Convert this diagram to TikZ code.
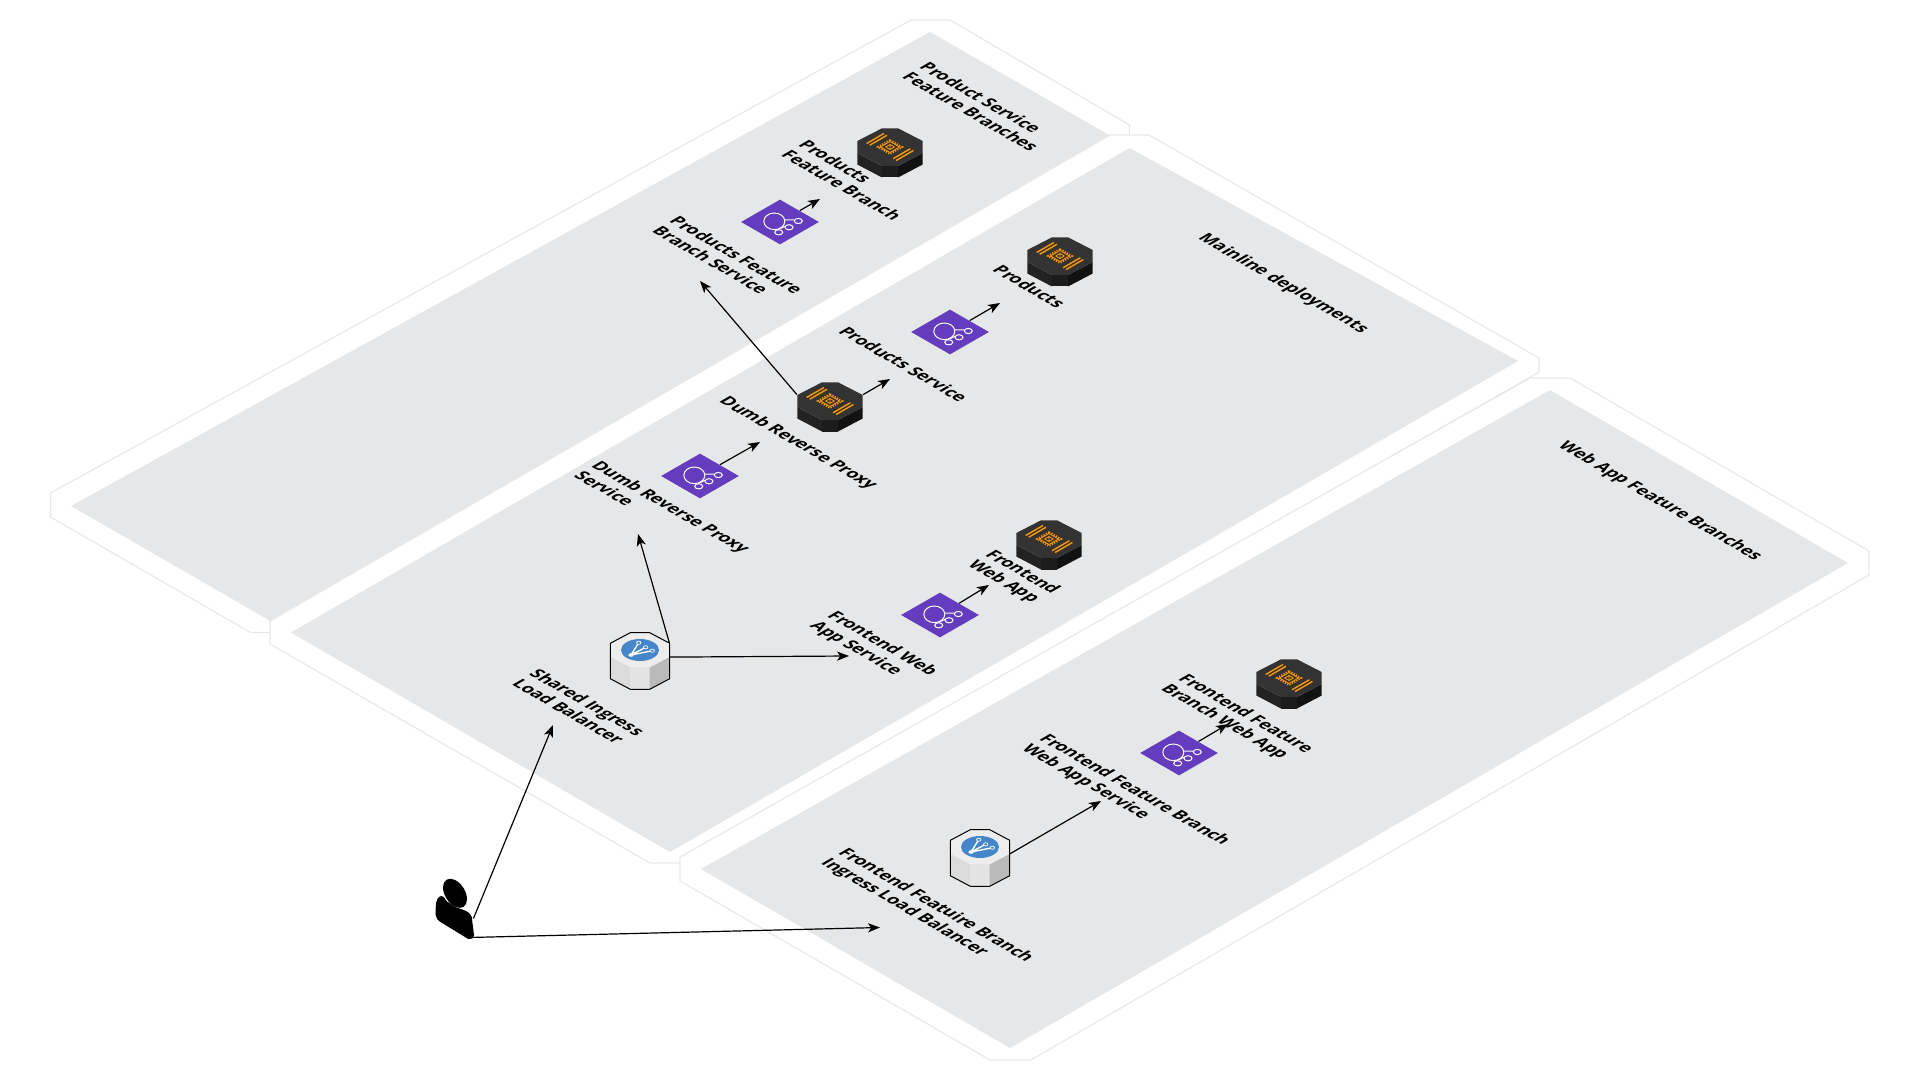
\documentclass[tikz,border=0pt]{standalone}
\usepackage{fontspec}
\setmainfont{Open Sans}
\usepackage{xcolor}
\usetikzlibrary{shapes.geometric,arrows.meta,positioning}
\definecolor{regiongrey}{RGB}{230, 231, 232}
\definecolor{regionline}{RGB}{232, 232, 232}
\definecolor{svcpurple}{RGB}{100, 60, 190}
\definecolor{chipface}{RGB}{51, 51, 51}
\definecolor{chipleft}{RGB}{34, 34, 34}
\definecolor{chipfront}{RGB}{28, 28, 28}
\definecolor{chipright}{RGB}{18, 18, 18}
\definecolor{chiporange}{RGB}{255, 153, 0}
\definecolor{hubblue}{RGB}{68, 134, 201}
\tikzstyle{outerregion} = [draw=regionline, line width=0.6pt, fill=white]
\tikzstyle{innerregion} = [fill=regiongrey]
\tikzstyle{svc} = [diamond, aspect=1.73, fill=svcpurple, inner sep=0pt, minimum width=39pt, minimum height=22.5pt]
\tikzstyle{chip} = [rectangle, inner sep=0pt, minimum width=32.7pt, minimum height=6pt]
\tikzstyle{hub} = [rectangle, inner sep=0pt, minimum width=29pt, minimum height=6.7pt]
\tikzstyle{person} = [rectangle, inner sep=0pt, minimum width=25pt, minimum height=9pt]
\tikzstyle{isotext} = [cm={.866,-.5,.866,.5,(0,0)}, transform shape, inner sep=0pt, anchor=north west, align=left, text=black, font=\fontsize{8.5}{10}\selectfont\bfseries]
\tikzstyle{tedge} = [draw, line width=0.6pt, >={Stealth[length=6pt,width=4.6pt,inset=1.6pt]}, ->]
\tikzset{
  isoplane/.style={cm={.866,-.5,.866,.5,(0,0)}},
  chipicon/.pic={
    \fill[chipleft] (-32.7,6) -- (-8,19) -- (-8,30.5) -- (-32.7,17.5) -- cycle;
    \fill[chipfront] (-8,19) -- (8,19) -- (8,30.5) -- (-8,30.5) -- cycle;
    \fill[chipright] (8,19) -- (32.7,6) -- (32.7,17.5) -- (8,30.5) -- cycle;
    \fill[chipface] (-32.7,-6) -- (-8,-18.7) -- (8,-18.7) -- (32.7,-6) -- (32.7,6) -- (8,19) -- (-8,19) -- (-32.7,6) -- cycle;
    \begin{scope}[isoplane, draw=chiporange, line width=0.7pt]
      \draw (-17,-10) -- (-17,10) (-13.5,-10) -- (-13.5,10);
      \draw (17,-10) -- (17,10) (13.5,-10) -- (13.5,10);
      \draw[line width=0.9pt, dash pattern=on 0.6pt off 0.7pt] (-7,-7) rectangle (7,7);
      \draw[line width=0.45pt] (-5.5,-5.5) rectangle (5.5,5.5);
      \draw[line width=0.4pt] (-2.5,-2.5) rectangle (2.5,2.5) (-2.5,-2.5) -- (2.5,2.5);
    \end{scope}
  },
  hubicon/.pic={
    \fill[black!14] (-29.7,6.7) -- (-9.7,17.3) -- (-9.7,39.3) -- (-29.7,28.7) -- cycle;
    \fill[black!11] (-9.7,17.3) -- (9.7,17.3) -- (9.7,39.3) -- (-9.7,39.3) -- cycle;
    \fill[black!27] (9.7,17.3) -- (29.7,6.7) -- (29.7,28.7) -- (9.7,39.3) -- cycle;
    \fill[black!7] (-29.7,-6.7) -- (-9.7,-17.3) -- (9.7,-17.3) -- (29.7,-6.7) -- (29.7,6.7) -- (9.7,17.3) -- (-9.7,17.3) -- (-29.7,6.7) -- cycle;
    \draw[black, line width=0.5pt] (-29.7,-6.7) -- (-9.7,-17.3) -- (9.7,-17.3) -- (29.7,-6.7) -- (29.7,28.7) -- (9.7,39.3) -- (-9.7,39.3) -- (-29.7,28.7) -- cycle;
    \fill[hubblue] (0,0) ellipse [x radius=19, y radius=11];
    \draw[white, line width=0.7pt] (-9,5) -- (-1.3,-7.3) (-9,5) -- (5.7,-2.7) (-9,5) -- (12.3,0.7);
    \fill[white] (-9,5) ellipse [x radius=2.6, y radius=1.8];
    \draw[white, fill=hubblue, line width=0.35pt] (-1.3,-7.3) ellipse [x radius=2.2, y radius=1.6];
    \draw[white, fill=hubblue, line width=0.35pt] (5.7,-2.7) ellipse [x radius=2.2, y radius=1.6];
    \draw[white, fill=hubblue, line width=0.35pt] (12.3,0.7) ellipse [x radius=2.2, y radius=1.6];
  },
  svcicon/.pic={
    \draw[white, line width=0.5pt] (5,-2) -- (14.3,-2) (-0.7,7) -- (5,4.3) (-4,7.7) -- (-2,8.3);
    \draw[white, line width=0.5pt] (-5.7,-0.7) ellipse [x radius=10.5, y radius=8.3];
    \draw[white, fill=svcpurple, line width=0.5pt] (18.3,-1) ellipse [x radius=4, y radius=2.6];
    \draw[white, fill=svcpurple, line width=0.5pt] (9,5.3) ellipse [x radius=4, y radius=2.6];
    \draw[white, fill=svcpurple, line width=0.5pt] (-1.3,10.3) ellipse [x radius=4, y radius=2.6];
  },
  personicon/.pic={
    \fill[black, rotate around={-58:(7,-34.7)}] (7,-34.7) ellipse [x radius=16, y radius=10];
    \fill[black] (-12.3,-13) -- (-12.3,-19.7) .. controls (-12.3,-28) and (-10,-32) .. (-6.3,-32) .. controls (-3,-32) and (-3,-26) .. (2,-24.7) .. controls (6,-21) and (10,-20) .. (13.7,-18.7) .. controls (19,-17) and (22,-15) .. (23.7,-11.3) -- (26,7) .. controls (26,10) and (23,12) .. (20.3,11) -- (-8,-6.3) .. controls (-10,-7.5) and (-12.3,-10) .. (-12.3,-13) -- cycle;
  }
}

\begin{document}
\begin{tikzpicture}[x=0.5pt, y=-0.5pt]
\useasboundingbox (0,0) rectangle (1920,1080);

% regions =============================

% product service feature branches
\path[outerregion] (50.5,493) -- (911,20) -- (950,20) -- (1129.5,125) -- (1129.5,135) -- (270,632.5) -- (250.5,632.5) -- (50.5,517) -- cycle;
\path[innerregion] (71,506) -- (930,32) -- (1109,135) -- (270.5,621) -- cycle;

% mainline
\path[outerregion] (270,621) -- (1110,135) -- (1149,135) -- (1539,358) -- (1539,372) -- (680,863) -- (650,863) -- (270,644) -- cycle;
\path[innerregion] (291,632.5) -- (1129.5,148) -- (1518,361) -- (670,852) -- cycle;

% web app feature branches
\path[outerregion] (680,857) -- (1530,378) -- (1570,378) -- (1869,551) -- (1869,575) -- (1031,1060) -- (990,1060) -- (680,881) -- cycle;
\path[innerregion] (701,869) -- (1550,390) -- (1848,563) -- (1010,1048) -- cycle;

% services =============================

\node[svc] (pfbsvc) at (780,222) {};
\node[svc] (prodsvc) at (950,332) {};
\node[svc] (proxysvc) at (700,476) {};
\node[svc] (fesvc) at (940,615) {};
\node[svc] (ffbsvc) at (1179,753) {};
\pic at (pfbsvc.center) {svcicon};
\pic at (prodsvc.center) {svcicon};
\pic at (proxysvc.center) {svcicon};
\pic at (fesvc.center) {svcicon};
\pic at (ffbsvc.center) {svcicon};

% tasks
\node[chip] (pfbtask) at (890,147) {};
\node[chip] (prodtask) at (1060,256) {};
\node[chip] (proxytask) at (830,401) {};
\node[chip] (fetask) at (1049,539) {};
\node[chip] (ffbtask) at (1289,678) {};
\pic at (pfbtask.center) {chipicon};
\pic at (prodtask.center) {chipicon};
\pic at (proxytask.center) {chipicon};
\pic at (fetask.center) {chipicon};
\pic at (ffbtask.center) {chipicon};

% load balancers
\node[hub] (ingress) at (640,650) {};
\node[hub] (ffbingress) at (980,847) {};
\pic at (ingress.center) {hubicon};
\pic at (ffbingress.center) {hubicon};

% user
\node[person] (user) at (448,928) {};
\pic at (user.center) {personicon};

% labels =============================

\node[isotext] (lblpfbregion) at (929.5,61) {Product Service\\Feature Branches};
\node[isotext] (lblmain) at (1208.5,232) {Mainline deployments};
\node[isotext] (lblwebregion) at (1568.5,440) {Web App Feature Branches};
\node[isotext] (lblpfbtask) at (808.5,139) {Products\\Feature Branch};
\node[isotext] (lblpfbsvc) at (679.5,215) {Products Feature\\Branch Service};
\node[isotext] (lblprodtask) at (1002.5,264) {Products};
\node[isotext] (lblprodsvc) at (848.5,325.5) {Products Service};
\node[isotext] (lblproxytask) at (729.5,395) {Dumb Reverse Proxy};
\node[isotext] (lblproxysvc) at (601.5,459.5) {Dumb Reverse Proxy\\Service};
\node[isotext] (lblfetask) at (995.5,548.5) {Frontend\\Web App};
\node[isotext] (lblfesvc) at (837.5,609.5) {Frontend Web\\App Service};
\node[isotext] (lblingress) at (539.5,667.5) {Shared Ingress\\Load Balancer};
\node[isotext] (lblffbtask) at (1188.5,672.5) {Frontend Feature\\Branch Web App};
\node[isotext] (lblffbsvc) at (1049.5,732.5) {Frontend Feature Branch\\Web App Service};
\node[isotext] (lblffbingress) at (848.5,846.5) {Frontend Featuire Branch\\Ingress Load Balancer};

% arrow ends
\coordinate (endingress) at (553,725);
\coordinate (endffbingress) at (880,927.5);
\coordinate (endproxysvc) at (638,534);
\coordinate (endfesvc) at (849,656);
\coordinate (endffbsvc) at (1101,801);
\coordinate (endproxytask) at (760,442);
\coordinate (endprodsvc) at (890,379);
\coordinate (endpfbsvc) at (700,281);
\coordinate (endpfbtask) at (820,199);
\coordinate (endprodtask) at (1000,303);
\coordinate (endfetask) at (989,585);
\coordinate (endffbtask) at (1228,724);

%edges
\path[tedge] (user.north east) -- (endingress);
\path[tedge] (user.south east) -- (endffbingress);
\path[tedge] (ingress.north east) -- (endproxysvc);
\path[tedge] (ingress.south east) -- (endfesvc);
\path[tedge] (ffbingress.south east) -- (endffbsvc);
\path[tedge] (proxysvc) -- (endproxytask);
\path[tedge] (proxytask.north east) -- (endprodsvc);
\path[tedge] (proxytask.north west) -- (endpfbsvc);
\path[tedge] (pfbsvc) -- (endpfbtask);
\path[tedge] (prodsvc) -- (endprodtask);
\path[tedge] (fesvc) -- (endfetask);
\path[tedge] (ffbsvc) -- (endffbtask);

\end{tikzpicture}
\end{document}
